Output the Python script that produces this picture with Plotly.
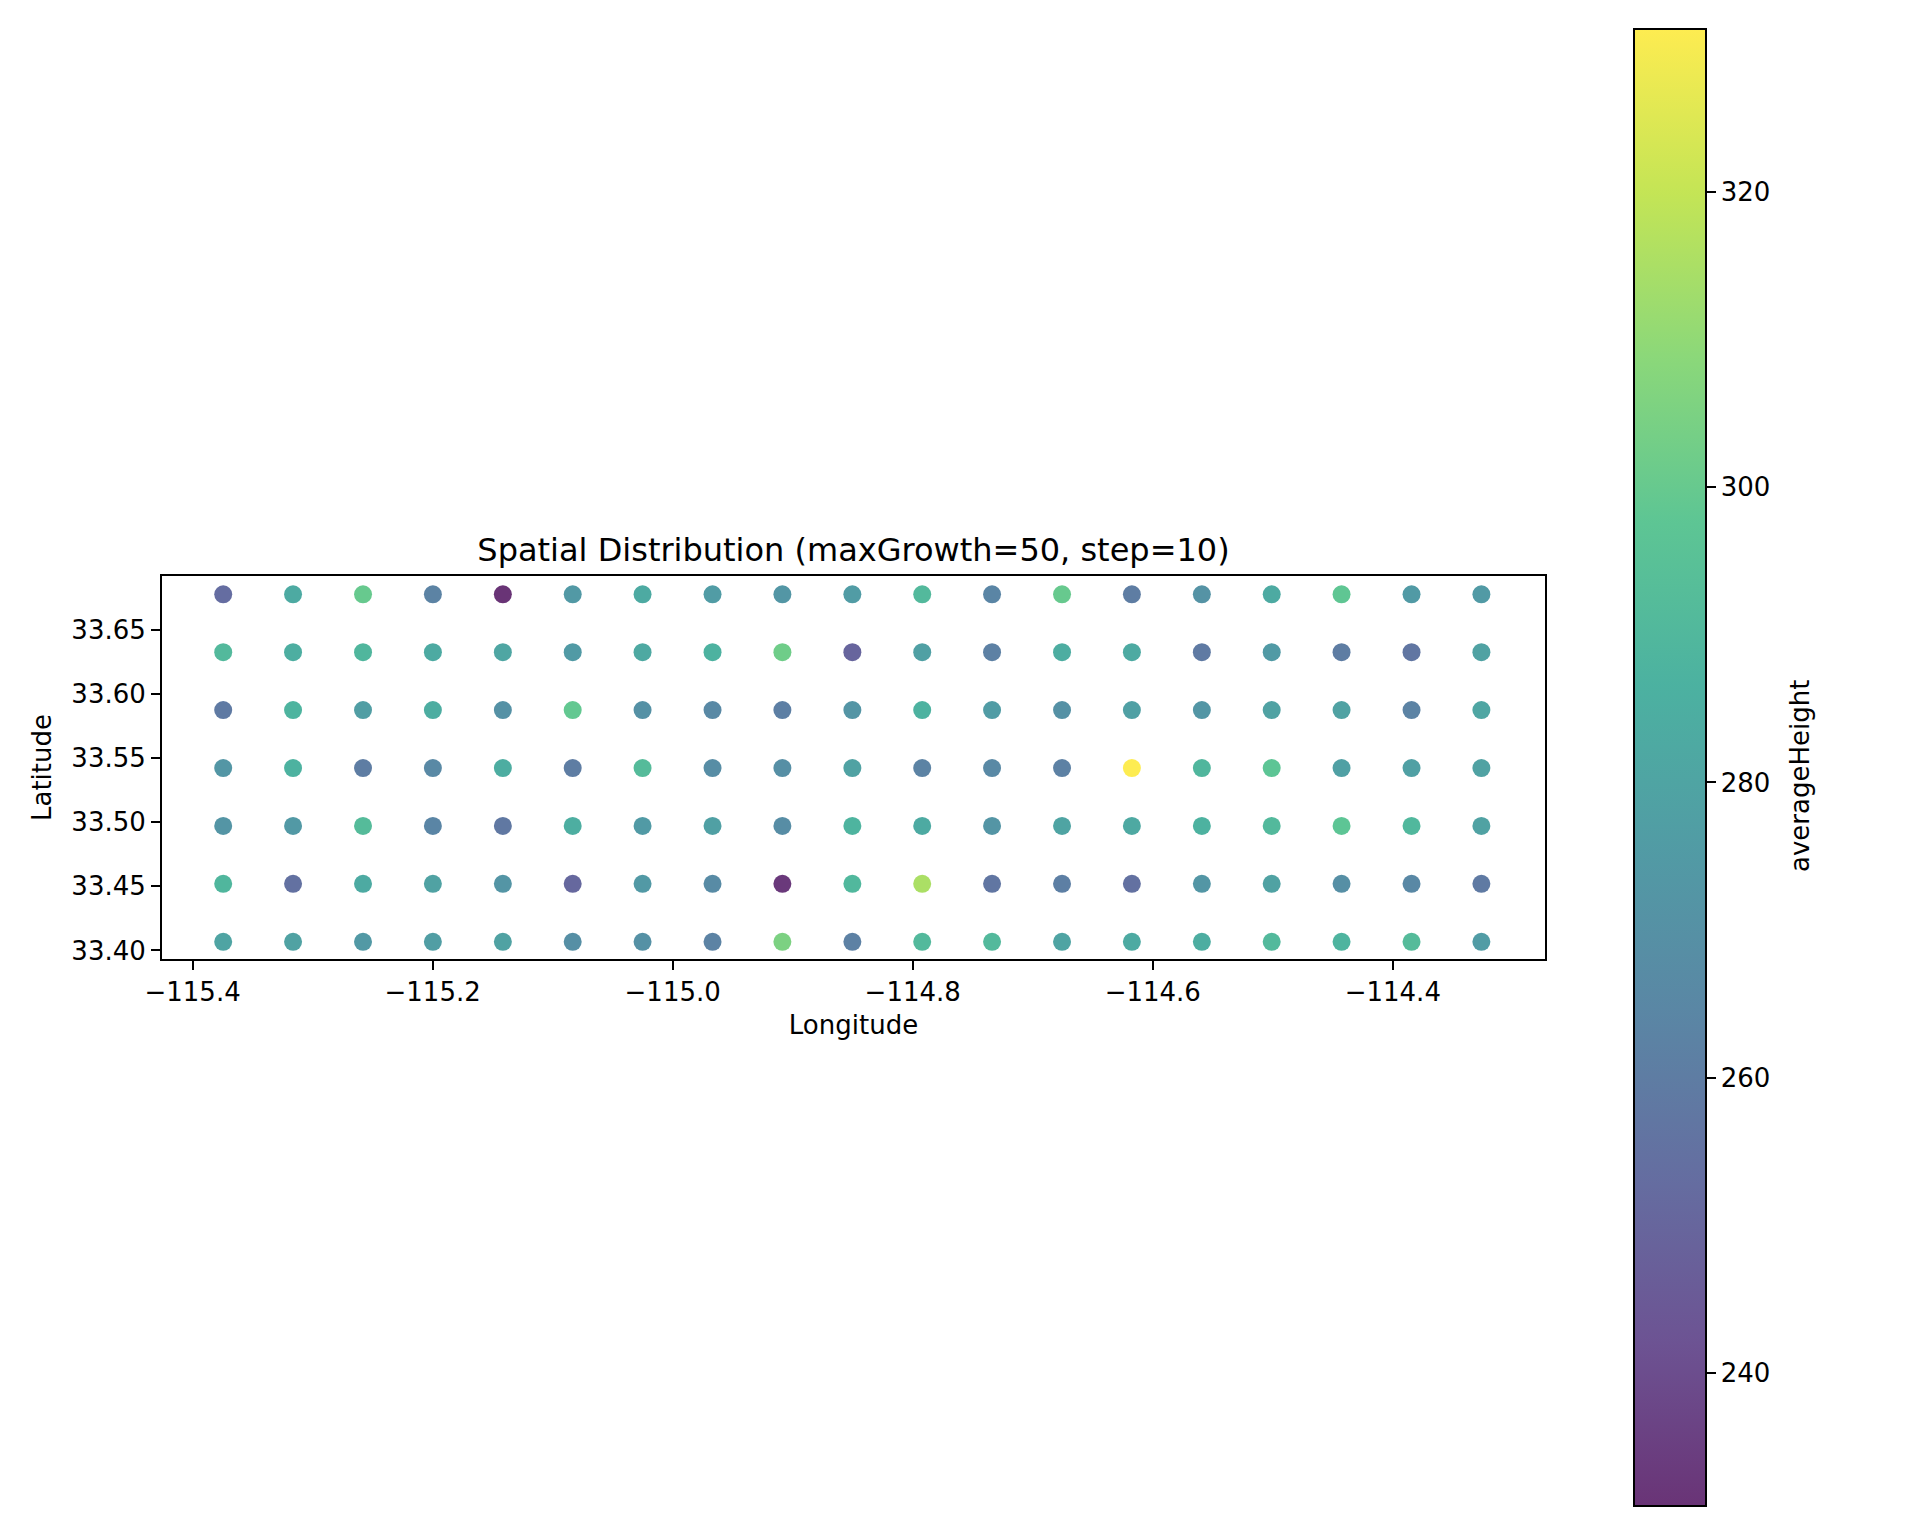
import plotly.graph_objects as go
import plotly.colors as pc

# ---- data ----
longitudes = [-115.3745, -115.3163, -115.2580, -115.1998, -115.1415, -115.0833, -115.0251,
              -114.9668, -114.9086, -114.8503, -114.7921, -114.7339, -114.6756, -114.6174,
              -114.5591, -114.5009, -114.4427, -114.3844, -114.3262]
latitudes = [33.6777, 33.6326, 33.5874, 33.5422, 33.4971, 33.4519, 33.4067]  # top -> bottom

row_0 = [253, 283, 300, 263, 231, 274, 283, 276, 273, 276, 291, 264, 300, 260, 271, 283, 298, 275, 275]
row_1 = [291, 285, 289, 283, 281, 275, 282, 287, 302, 250, 278, 262, 284, 283, 259, 275, 260, 257, 279]
row_2 = [259, 288, 277, 284, 270, 299, 270, 266, 261, 272, 287, 276, 270, 278, 273, 279, 279, 263, 281]
row_3 = [273, 287, 260, 266, 284, 260, 292, 268, 269, 279, 263, 266, 262, 331, 289, 297, 278, 278, 279]
row_4 = [272, 274, 292, 264, 258, 285, 275, 278, 268, 288, 283, 272, 280, 282, 287, 291, 297, 290, 279]
row_5 = [289, 255, 283, 279, 272, 251, 274, 267, 233, 290, 315, 257, 261, 255, 273, 279, 269, 265, 259]
row_6 = [280, 279, 274, 277, 279, 269, 270, 263, 305, 262, 291, 291, 280, 283, 284, 291, 288, 292, 276]
height_rows = [row_0, row_1, row_2, row_3, row_4, row_5, row_6]

x_tick_vals = [-115.4, -115.2, -115.0, -114.8, -114.6, -114.4]
x_tick_text = ["\u2212115.4", "\u2212115.2", "\u2212115.0", "\u2212114.8", "\u2212114.6", "\u2212114.4"]
y_tick_vals = [33.40, 33.45, 33.50, 33.55, 33.60, 33.65]
y_tick_text = ["33.40", "33.45", "33.50", "33.55", "33.60", "33.65"]
cbar_tick_vals = [240, 260, 280, 300, 320]

# ---- build point table ----
xs, ys, zs = [], [], []
for lat, row in zip(latitudes, height_rows):
    for lon, h in zip(longitudes, row):
        xs.append(lon)
        ys.append(lat)
        zs.append(h)

# viridis with alpha 0.8
def to_rgba(hexcol, a=0.8):
    r, g, b = pc.hex_to_rgb(hexcol)
    return f"rgba({r},{g},{b},{a})"

vir = pc.sequential.Viridis
n = len(vir)
colorscale = [[i / (n - 1), to_rgba(c)] for i, c in enumerate(vir)]

FONT = "DejaVu Sans"
OFF = 8  # page body margin
W, H = 1904, 1520
L, R, T, B = 162 - OFF, 1545 - OFF, 576 - OFF, 959 - OFF
PW, PH = R - L, B - T

fig = go.Figure()
fig.add_trace(go.Scatter(
    x=xs, y=ys, mode="markers",
    marker=dict(
        size=18,
        color=zs,
        colorscale=colorscale,
        cmin=min(zs), cmax=max(zs),
        line=dict(width=0),
        colorbar=dict(
            thickness=72,
            thicknessmode="pixels",
            len=1477,
            lenmode="pixels",
            x=(1633.5 - OFF - L) / PW,
            xanchor="left",
            xref="paper",
            y=(B - (767.7 - OFF)) / PH,
            yanchor="middle",
            xpad=0, ypad=0,
            outlinewidth=2,
            outlinecolor="black",
            ticks="outside",
            ticklen=9,
            tickwidth=2,
            tickcolor="black",
            tickvals=cbar_tick_vals,
            tickprefix="\u2009",
            tickfont=dict(family=FONT, size=26, color="black"),
        ),
    ),
    showlegend=False,
    hoverinfo="x+y",
))

fig.add_annotation(
    text="averageHeight", textangle=-90,
    xref="paper", yref="paper",
    x=(1800 - OFF - L) / PW, y=(B - (776 - OFF)) / PH,
    xanchor="center", yanchor="middle", showarrow=False,
    font=dict(family=FONT, size=26, color="black"),
)

fig.update_layout(
    width=W, height=H,
    margin=dict(l=L, r=W - R, t=T, b=H - B, autoexpand=False),
    paper_bgcolor="white",
    plot_bgcolor="white",
    font=dict(family=FONT, size=26, color="black"),
    title=dict(
        text="Spatial Distribution (maxGrowth=50, step=10)",
        x=0.5, xref="paper", xanchor="center",
        y=1 - (550 - OFF) / H, yref="container", yanchor="middle",
        font=dict(family=FONT, size=32, color="black"),
    ),
    xaxis=dict(
        range=[-115.4255, -114.2732],
        tickvals=x_tick_vals, ticktext=x_tick_text,
        ticks="outside", ticklen=9, tickwidth=2, tickcolor="black",
        showline=True, linecolor="black", linewidth=2, mirror=True,
        showgrid=False, zeroline=False,
        tickfont=dict(family=FONT, size=26, color="black"),
        title=dict(text="Longitude", standoff=10,
                   font=dict(family=FONT, size=26, color="black")),
    ),
    yaxis=dict(
        range=[33.3933, 33.692],
        tickvals=y_tick_vals, ticktext=y_tick_text,
        ticks="outside", ticklen=9, tickwidth=2, tickcolor="black",
        showline=True, linecolor="black", linewidth=2, mirror=True,
        showgrid=False, zeroline=False,
        tickfont=dict(family=FONT, size=26, color="black"),
        title=dict(text="Latitude", standoff=12,
                   font=dict(family=FONT, size=26, color="black")),
    ),
)

fig.write_html("out.html")
